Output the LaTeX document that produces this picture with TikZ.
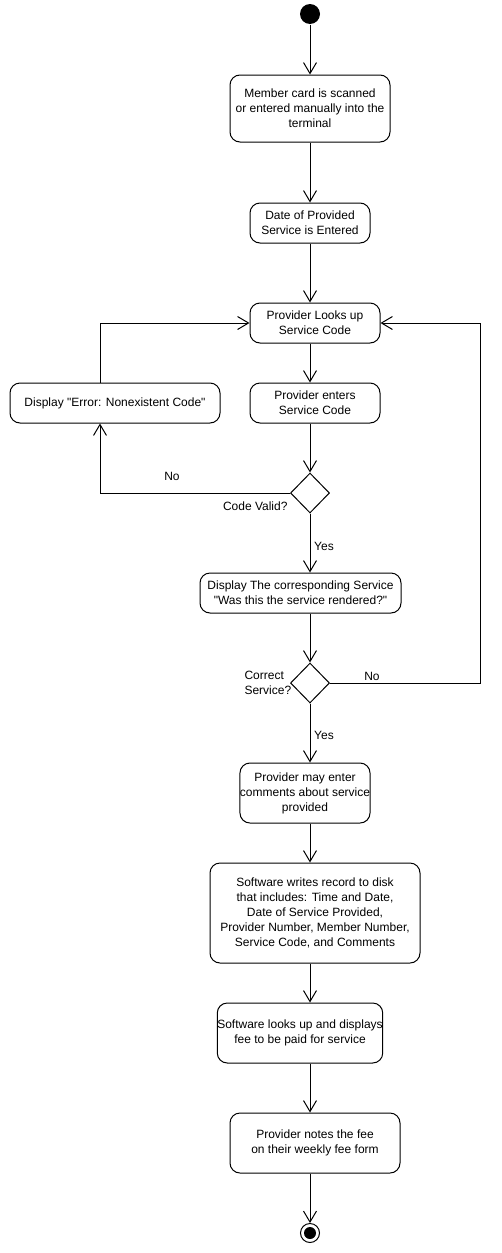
\documentclass[tikz,border=0pt]{standalone}
\usepackage{fontspec}
\setmainfont{Liberation Sans}[Ligatures=TeXOff]
\usetikzlibrary{arrows.meta,shapes.geometric}
\begin{document}
\begin{tikzpicture}[x=1pt,y=-1pt,line width=1pt,
  box/.style={draw,rounded corners=10pt,align=center,inner sep=0pt,font=\fontsize{12}{15}\selectfont},
  dec/.style={draw,diamond,inner sep=0pt,minimum width=39pt,minimum height=40pt},
  lbl/.style={font=\fontsize{12}{15}\selectfont,inner sep=0pt},
  arr/.style={-{Straight Barb[length=11pt,width=13pt,line width=1pt]}}]
\useasboundingbox (0,0) rectangle (501,1253);
\node[circle,fill=black,minimum size=20pt,inner sep=0pt] (start) at (310,14) {};
\node[box,minimum width=160pt,minimum height=67pt] (b1) at (310,108.5) {Member card is scanned\\or entered manually into the\\terminal};
\node[box,minimum width=120pt,minimum height=40pt] (b2) at (310,223) {Date of Provided\\Service is Entered};
\node[box,minimum width=130pt,minimum height=40pt] (b3) at (315,323) {Provider Looks up\\Service Code};
\node[box,minimum width=130pt,minimum height=40pt] (b4) at (315,403) {Provider enters\\Service Code};
\node[box,minimum width=210pt,minimum height=40pt] (err) at (115,403) {Display "Error: Nonexistent Code"};
\node[dec] (d1) at (310,493) {};
\node[box,minimum width=201pt,minimum height=40pt] (b5) at (300.5,593) {Display The corresponding Service\\"Was this the service rendered?"};
\node[dec] (d2) at (310,683) {};
\node[box,minimum width=130pt,minimum height=60pt] (b6) at (305,793) {Provider may enter\\comments about service\\provided};
\node[box,minimum width=210pt,minimum height=100pt] (b7) at (315,913) {Software writes record to disk\\that includes: Time and Date,\\Date of Service Provided,\\Provider Number, Member Number,\\Service Code, and Comments};
\node[box,minimum width=140pt,minimum height=60pt] (b8) at (300,1033) {Software looks up and displays\\fee to be paid for service};
\node[box,minimum width=170pt,minimum height=60pt] (b9) at (315,1143) {Provider notes the fee\\on their weekly fee form};
\node[circle,draw,minimum size=19pt,inner sep=0pt] (end) at (310,1233) {};
\node[circle,fill=black,minimum size=12pt,inner sep=0pt] (endin) at (310,1233) {};
\coordinate (lx) at (100,0);
\coordinate (rx) at (480,0);
% labels
\node[lbl] (no1) at (172,476) {No};
\node[lbl,anchor=east] (cv) at (288,506) {Code Valid?};
\node[lbl] (yes1) at (324,546) {Yes};
\node[lbl,align=left,anchor=west] (cs) at (244,683) {Correct\\Service?};
\node[lbl] (no2) at (372,676) {No};
\node[lbl] (yes2) at (324,735) {Yes};
% connectors
\draw[arr] (start) -- (b1);
\draw[arr] (b1) -- (b2);
\draw[arr] (b2.south) -- (b2.south |- b3.north);
\draw[arr] (start |- b3.south) -- (start |- b4.north);
\draw[arr] (start |- b4.south) -- (d1.north);
\draw[arr] (d1.west) -| (lx |- err.south);
\draw[arr] (lx |- err.north) |- (b3.west);
\draw[arr] (d1.south) -- (d1.south |- b5.north);
\draw[arr] (d1 |- b5.south) -- (d2.north);
\draw[arr] (d2.east) -| (rx |- b3.east) -- (b3.east);
\draw[arr] (d2.south) -- (d2.south |- b6.north);
\draw[arr] (start |- b6.south) -- (start |- b7.north);
\draw[arr] (start |- b7.south) -- (start |- b8.north);
\draw[arr] (start |- b8.south) -- (start |- b9.north);
\draw[arr] (start |- b9.south) -- (end.north);
\end{tikzpicture}
\end{document}
